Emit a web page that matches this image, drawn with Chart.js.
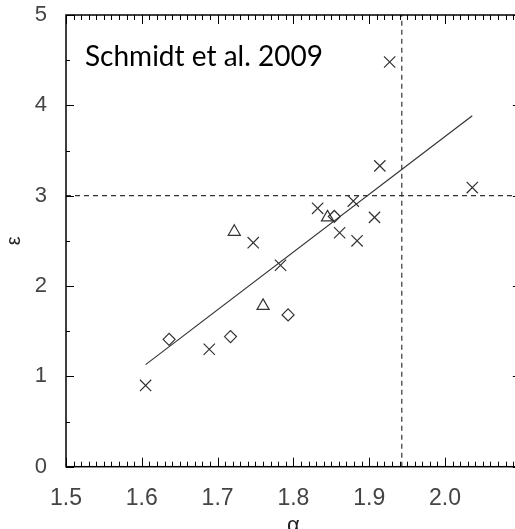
<!DOCTYPE html>
<html>
<head>
<meta charset="utf-8">
<script src="https://cdn.jsdelivr.net/npm/chart.js@4"></script>
<style>
    html, body { margin: 0; padding: 0; background: #fff; overflow: hidden; }
</style>
</head>
<body>
<canvas id="chart" width="530" height="545"></canvas>
<script>
// alpha / epsilon values
const crossAlpha = [1.605, 1.689, 1.747, 1.783, 1.832, 1.861, 1.879, 1.884, 1.907, 1.914, 1.927, 2.036];
const crossEps   = [0.90, 1.30, 2.48, 2.23, 2.86, 2.59, 2.94, 2.50, 2.76, 3.33, 4.48, 3.09];
const triAlpha   = [1.722, 1.760, 1.845];
const triEps     = [2.60, 1.78, 2.76];
const diaAlpha   = [1.636, 1.717, 1.793, 1.854];
const diaEps     = [1.41, 1.44, 1.68, 2.77];
const fitAlpha   = [1.605, 2.036];
const fitEps     = [1.13, 3.885];
const refAlpha   = 1.943;
const refEps     = 3.0;
const xTickLabels = ['1.5', '1.6', '1.7', '1.8', '1.9', '2.0'];
const yTickLabels = ['0', '1', '2', '3', '4', '5'];

const toPoints = (xs, ys) => xs.map((v, i) => ({x: v, y: ys[i]}));
const ink = '#333333';

// box frame with IDL style inward ticks on all four sides, plus the label
const framePlugin = {
    id: 'frame',
    afterDatasetsDraw(chart) {
        const {ctx, chartArea: a, scales: {x, y}} = chart;
        ctx.save();
        ctx.strokeStyle = '#000';
        ctx.lineWidth = 1.5;
        ctx.strokeRect(a.left, a.top, a.width, a.height);
        ctx.lineWidth = 1;
        ctx.beginPath();
        for (let i = 150; i <= 210; i++) {
            const px = Math.round(x.getPixelForValue(i / 100)) + 0.5;
            const len = i % 10 === 0 ? 9 : 5;
            ctx.moveTo(px, a.bottom); ctx.lineTo(px, a.bottom - len);
            ctx.moveTo(px, a.top); ctx.lineTo(px, a.top + len);
        }
        for (let j = 0; j <= 10; j++) {
            const py = Math.round(y.getPixelForValue(j / 2)) + 0.5;
            const len = j % 2 === 0 ? 8 : 4;
            ctx.moveTo(a.left, py); ctx.lineTo(a.left + len, py);
            ctx.moveTo(a.right, py); ctx.lineTo(a.right - len, py);
        }
        ctx.stroke();

        ctx.fillStyle = '#000';
        ctx.font = '28px Lato';
        ctx.textBaseline = 'alphabetic';
        ctx.fillText('Schmidt et al. 2009', a.left + 19, a.top + 51);
        ctx.restore();
    }
};

new Chart(document.getElementById('chart'), {
    type: 'scatter',
    data: {
        datasets: [
            {
                data: [{x: 1.5, y: refEps}, {x: 2.1, y: refEps}],
                type: 'line', showLine: true, pointRadius: 0,
                borderColor: ink, borderWidth: 1.2, borderDash: [5, 4]
            },
            {
                data: [{x: refAlpha, y: 0}, {x: refAlpha, y: 5}],
                type: 'line', showLine: true, pointRadius: 0,
                borderColor: ink, borderWidth: 1.2, borderDash: [5, 4]
            },
            {
                data: toPoints(fitAlpha, fitEps),
                type: 'line', showLine: true, pointRadius: 0,
                borderColor: ink, borderWidth: 1.2
            },
            {
                data: toPoints(crossAlpha, crossEps),
                pointStyle: 'crossRot', pointRadius: 8,
                borderColor: ink, borderWidth: 1.2
            },
            {
                data: toPoints(triAlpha, triEps),
                pointStyle: 'triangle', pointRadius: 7,
                borderColor: ink, backgroundColor: 'transparent', borderWidth: 1.2
            },
            {
                data: toPoints(diaAlpha, diaEps),
                pointStyle: 'rectRot', pointRadius: 6,
                borderColor: ink, backgroundColor: 'transparent', borderWidth: 1.2
            }
        ]
    },
    options: {
        responsive: false,
        animation: false,
        layout: {
            padding: {top: 15, right: 9.2, left: 0, bottom: 0}
        },
        plugins: {
            legend: {display: false},
            tooltip: {enabled: false}
        },
        scales: {
            x: {
                type: 'linear',
                min: 1.5,
                max: 2.1,
                grid: {display: false},
                border: {display: false},
                ticks: {
                    stepSize: 0.1,
                    padding: 10,
                    color: '#444',
                    font: {family: 'Liberation Sans', size: 23},
                    callback: value => xTickLabels[Math.round((value - 1.5) * 10)] || ''
                },
                title: {
                    display: true,
                    text: 'α',
                    color: '#222',
                    font: {family: 'Liberation Sans', size: 22},
                    padding: {top: 0, bottom: 6}
                },
                afterFit: scale => {
                    scale.height = 78.3;
                    scale.paddingLeft = 0;
                    scale.paddingRight = 0;
                }
            },
            y: {
                min: 0,
                max: 5,
                grid: {display: false},
                border: {display: false},
                ticks: {
                    stepSize: 1,
                    padding: 11,
                    color: '#444',
                    font: {family: 'Liberation Sans', size: 22},
                    callback: value => yTickLabels[Math.round(value)] || ''
                },
                title: {
                    display: true,
                    text: 'ε',
                    color: '#222',
                    font: {family: 'Liberation Sans', size: 20},
                    padding: {top: 2, bottom: 0}
                },
                afterFit: scale => {
                    scale.width = 66;
                    scale.paddingTop = 0;
                    scale.paddingBottom = 0;
                }
            }
        }
    },
    plugins: [framePlugin]
});
</script>
</body>
</html>
